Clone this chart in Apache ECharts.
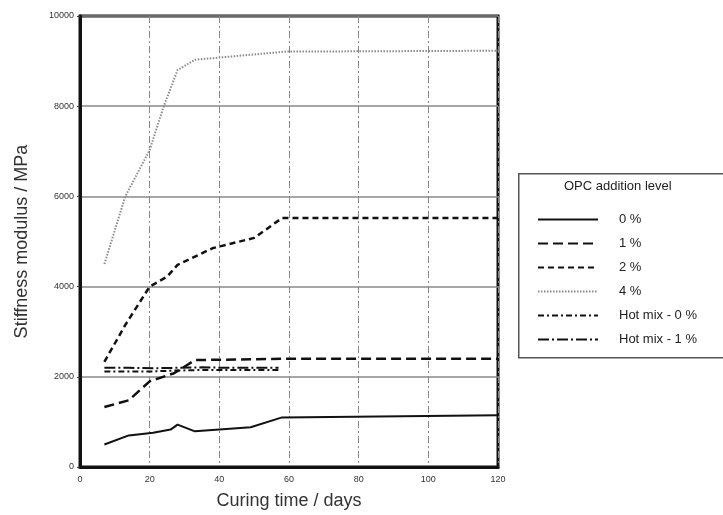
<!DOCTYPE html>
<html>
<head>
<meta charset="utf-8">
<script src="https://cdn.jsdelivr.net/npm/echarts@6/dist/echarts.min.js"></script>
<style>
html,body{margin:0;padding:0;background:#fff;}
#chart{width:723px;height:515px;}
</style>
</head>
<body>
<div id="chart"></div>
<script>
var seriesNames = ['0 %', '1 %', '2 %', '4 %', 'Hot mix - 0 %', 'Hot mix - 1 %'];
var days0 = [7, 14, 21, 26, 28, 33, 40, 49, 58, 120];
var vals0 = [500, 700, 760, 830, 940, 790, 830, 880, 1100, 1150];
var days1 = [7, 14, 20, 27, 33, 58, 120];
var vals1 = [1330, 1480, 1900, 2080, 2370, 2400, 2400];
var days2 = [7, 13, 20, 25, 28, 38, 50, 58, 120];
var vals2 = [2330, 3150, 4000, 4220, 4480, 4850, 5080, 5520, 5520];
var days4 = [7, 13, 20, 24, 28, 33, 59, 120];
var vals4 = [4500, 6000, 7030, 7990, 8800, 9030, 9210, 9230];
var daysHM = [7, 14, 21, 28, 35, 42, 49, 57];
var valsHM0 = [2120, 2120, 2120, 2140, 2150, 2150, 2150, 2150];
var valsHM1 = [2200, 2200, 2190, 2200, 2210, 2200, 2200, 2200];
var xTicks = [0, 20, 40, 60, 80, 100, 120];
var yTicks = [0, 2000, 4000, 6000, 8000, 10000];

function pairs(d, v) { return d.map(function (x, i) { return [x, v[i]]; }); }

var styles = [
  {color: '#111', width: 2, type: 'solid'},
  {color: '#111', width: 2.5, type: [10, 5]},
  {color: '#111', width: 2.5, type: [6, 4]},
  {color: '#8a8a8a', width: 2, type: [1.5, 1.5]},
  {color: '#111', width: 2, type: [6, 3, 2, 3]},
  {color: '#111', width: 2, type: [11, 3, 2, 3]}
];
var dataSets = [pairs(days0, vals0), pairs(days1, vals1), pairs(days2, vals2),
  pairs(days4, vals4), pairs(daysHM, valsHM0), pairs(daysHM, valsHM1)];

var chart = echarts.init(document.getElementById('chart'));
chart.setOption({
  animation: false,
  backgroundColor: '#fff',
  grid: {left: 80, right: 225, top: 16, bottom: 48, show: true, borderColor: '#111', borderWidth: 3, backgroundColor: 'transparent'},
  xAxis: {
    type: 'value', min: 0, max: 120, interval: 20,
    name: 'Curing time / days', nameLocation: 'middle', nameGap: 25,
    nameTextStyle: {fontFamily: 'Liberation Sans', fontSize: 18, color: '#333'},
    axisLine: {show: true, lineStyle: {color: '#111', width: 3}},
    axisTick: {show: false},
    axisLabel: {fontFamily: 'Liberation Sans', fontSize: 9, color: '#333', margin: 8,
      formatter: function (v) { return xTicks.indexOf(v) >= 0 ? String(v) : ''; }},
    splitLine: {show: true, lineStyle: {color: '#888', width: 1, type: [7, 3, 2, 3]}}
  },
  yAxis: {
    type: 'value', min: 0, max: 10000, interval: 2000,
    name: 'Stiffness modulus / MPa', nameLocation: 'middle', nameGap: 49,
    nameTextStyle: {fontFamily: 'Liberation Sans', fontSize: 18, color: '#333'},
    axisLine: {show: true, lineStyle: {color: '#111', width: 3}},
    axisTick: {show: true, length: 3, lineStyle: {color: '#333'}},
    axisLabel: {fontFamily: 'Liberation Sans', fontSize: 9, color: '#333', margin: 6,
      formatter: function (v) { return yTicks.indexOf(v) >= 0 ? String(v) : ''; }},
    splitLine: {show: true, lineStyle: {color: '#888', width: 1.5}}
  },
  legend: {
    orient: 'vertical', left: 532, top: 208, itemWidth: 60, itemHeight: 12, itemGap: 11,
    data: seriesNames,
    itemStyle: {color: 'transparent', borderWidth: 0, opacity: 0},
    textStyle: {fontFamily: 'Liberation Sans', fontSize: 13, color: '#222', padding: [0, 0, 0, 16]}
  },
  graphic: [
    {type: 'rect', left: 518, top: 173, shape: {width: 230, height: 184},
      style: {fill: 'transparent', stroke: '#555', lineWidth: 1.5}, z: 0},
    {type: 'text', left: 564, top: 180,
      style: {text: 'OPC addition level', font: '13px "Liberation Sans"', fill: '#222'}}
  ],
  series: dataSets.map(function (d, i) {
    return {
      name: seriesNames[i], type: 'line', data: d, symbol: 'none',
      lineStyle: styles[i], itemStyle: {color: styles[i].color}
    };
  })
});
</script>
</body>
</html>
